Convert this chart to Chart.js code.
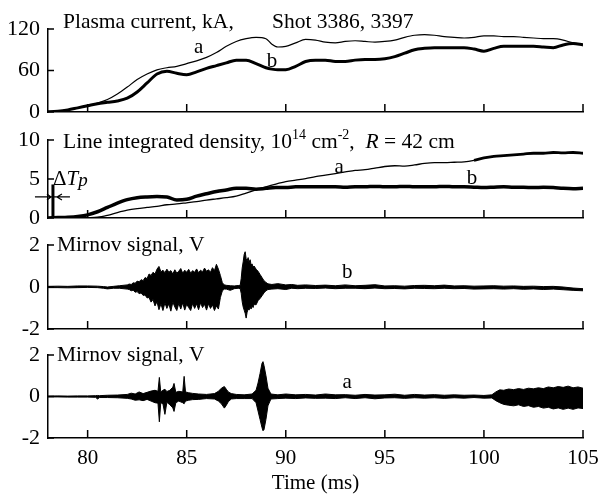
<!DOCTYPE html>
<html><head><meta charset="utf-8">
<script src="https://cdn.jsdelivr.net/npm/chart.js@4"></script>
<style>
html,body{margin:0;padding:0;background:#fff;}
#wrap{position:relative;width:599px;height:501px;background:#fff;}
canvas{position:absolute;left:0;top:0;}
</style></head><body>
<div id="wrap">
<canvas id="c1" width="599" height="501"></canvas>
<canvas id="c2" width="599" height="501"></canvas>
<canvas id="c3" width="599" height="501"></canvas>
<canvas id="c4" width="599" height="501"></canvas>
</div>
<script>
// ---------- tick labels ----------
const xTicks = [80, 85, 90, 95, 100, 105];
const yTicksCurrent = [0, 60, 120];
const yTicksDensity = [0, 5, 10];
const yTicksMirnov = [-2, 0, 2];

// ---------- Panel 1: plasma current (kA) ----------
const timeCurrent = [77.8,78.5,79,79.5,80,80.5,81,81.5,82,82.5,83,83.5,84,84.5,85,85.5,86,86.5,87,87.5,88,88.5,89,89.3,89.6,90,90.5,91,91.5,92,92.5,93,93.5,94,94.5,95,95.5,96,96.5,97,97.5,98,98.5,99,99.5,100,100.5,101,101.5,102,102.5,103,103.5,104,104.5,105];
const currentA = [0,1,3,6,9,13,18,26,36,47,55,61,64,66,70,74,79,86,95,102,106,108,106,98,94,95,100,105,104,101,100,102,103,102,101,102,104,108,111,112,111,109,108,107,108,110,110,109,109,108,107,106,106,104,100,98];
const currentB = [0,1,3,6,9,12,14,16,20,29,42,55,59,56,54,58,63,67,71,75,75,70,64,62,61,61,66,73,75,75,73,73,75,76,76,77,80,85,90,92,93,93,93,93,91,88,92,95,95,95,95,94,93,97,99,97];

// ---------- Panel 2: line integrated density (1e14 cm^-2) ----------
const timeDensity = [78,78.5,79,79.5,80,80.5,81,81.5,82,82.5,83,83.5,84,84.5,85,85.5,86,86.5,87,87.5,88,88.5,89,89.5,90,90.5,91,91.5,92,92.5,93,93.5,94,94.5,95,95.5,96,96.5,97,97.5,98,98.5,99,99.5,100,100.5,101,101.5,102,102.5,103,103.5,104,104.5,105];
const densityA = [0,0,0,0.02,0.05,0.1,0.35,0.7,1.0,1.2,1.35,1.5,1.7,1.8,1.95,2.1,2.3,2.45,2.6,2.8,3.2,3.6,4.0,4.35,4.65,4.85,5.05,5.3,5.5,5.7,5.9,6.1,6.2,6.4,6.6,6.7,6.65,6.8,7.0,7.1,7.1,7.15,7.2,7.4,7.7,7.9,8.0,8.1,8.2,8.3,8.3,8.4,8.35,8.4,8.3];
const densityB = [0,0.05,0.1,0.2,0.4,0.8,1.35,1.9,2.35,2.6,2.7,2.75,2.7,2.3,2.4,2.8,3.1,3.4,3.6,3.8,3.8,3.7,3.8,3.9,3.9,4.0,4.0,4.0,4.0,4.0,3.95,4.0,4.0,4.05,4.0,4.0,4.05,4.0,4.0,4.0,4.05,4.0,4.0,3.95,3.9,3.95,4.0,3.95,3.95,3.9,3.95,3.9,3.8,3.75,3.8];

// ---------- Panel 3: Mirnov signal b (V), upper / lower envelope ----------
const timeMirB = [78,78.5,79,79.5,80,80.5,80.8,81.0,81.3,81.6,
  82.0,82.1,82.2,82.3,82.4,82.5,82.6,82.7,82.8,82.9,
  83.0,83.1,83.2,83.3,83.4,83.5,83.6,83.7,83.8,83.9,
  84.0,84.1,84.2,84.3,84.4,84.5,84.6,84.7,84.8,84.9,
  85.0,85.1,85.2,85.3,85.4,85.5,85.6,85.7,85.8,85.9,
  86.0,86.1,86.2,86.3,86.4,86.5,86.6,86.7,86.8,86.9,
  87.0,87.2,87.4,87.6,87.7,87.75,87.8,87.85,87.9,87.95,
  88.0,88.05,88.1,88.15,88.2,88.25,88.3,88.35,88.4,88.5,
  88.6,88.7,88.8,88.9,89.0,89.1,89.3,89.6,90.0,90.3,
  90.6,91,91.5,92,92.5,93,93.5,94,94.5,95,
  95.5,96,96.5,97,97.5,98,98.5,99,99.5,100,
  100.5,101,101.5,102,102.5,103,103.5,104,104.5,105];
const upperMirB = [.03,.04,.03,.05,.05,.04,.02,.00,.03,.06,
  .10,.14,.12,.20,.18,.28,.25,.35,.30,.45,
  .40,.62,.55,.70,.62,.85,.98,.72,.80,.68,
  .85,.70,.78,.62,.82,.66,.75,.88,.65,.80,
  .70,.84,.66,.78,.70,.86,.68,.80,.72,.90,
  .75,.82,.70,.92,.78,1.08,.85,.55,.20,.10,
  .08,.06,.05,.07,.08,.40,.90,1.20,1.55,1.68,
  1.35,1.25,1.40,1.15,1.30,1.05,1.10,.95,1.00,.85,
  .75,.60,.45,.30,.22,.15,.12,.16,.10,.12,
  .08,.10,.07,.09,.06,.10,.06,.08,.11,.05,
  .06,.04,.07,.08,.06,.09,.05,.06,.04,.05,
  .06,.04,.05,.03,.04,.02,.03,.00,-.05,-.08];
const lowerMirB = [-.03,-.03,-.04,-.03,-.02,-.03,-.06,-.09,-.06,-.06,
  -.10,-.12,-.18,-.15,-.25,-.22,-.32,-.28,-.40,-.38,
  -.52,-.50,-.72,-.60,-.90,-.70,-1.08,-.80,-1.12,-.75,
  -1.02,-.80,-1.15,-.72,-.95,-1.12,-.78,-1.05,-.75,-1.10,
  -.82,-.98,-1.12,-.78,-1.02,-.80,-1.08,-.75,-.98,-.82,
  -1.10,-.80,-1.02,-.85,-1.12,-.90,-1.05,-.50,-.18,-.10,
  -.10,-.16,-.08,-.06,-.08,-.30,-.70,-.95,-1.10,-1.25,
  -1.48,-1.20,-1.05,-1.10,-.95,-1.05,-.90,-.98,-.82,-.85,
  -.65,-.55,-.42,-.28,-.18,-.12,-.10,-.08,-.12,-.06,
  -.08,-.06,-.07,-.05,-.08,-.06,-.06,-.08,-.05,-.08,
  -.07,-.09,-.06,-.07,-.08,-.06,-.08,-.07,-.10,-.09,
  -.08,-.10,-.08,-.11,-.09,-.12,-.10,-.13,-.16,-.18];

// ---------- Panel 4: Mirnov signal a (V), upper / lower envelope ----------
const timeMirA = [78,78.5,79,79.5,80,80.4,80.5,80.6,81,81.5,
  82,82.2,82.4,82.6,82.8,83.0,83.2,83.4,83.55,83.62,
  83.69,83.8,83.9,84.0,84.15,84.3,84.36,84.45,84.6,84.8,
  84.87,84.94,85.1,85.3,85.6,86.0,86.4,86.6,86.75,86.9,
  87.0,87.1,87.25,87.5,87.9,88.3,88.5,88.6,88.7,88.8,
  88.85,88.9,89.0,89.1,89.25,89.6,90.0,90.5,91,91.5,
  92,92.5,93,93.5,94,94.5,95,95.5,96,96.5,
  97,97.5,98,98.5,99,99.5,100,100.4,100.6,100.8,
  101.0,101.25,101.5,101.75,102,102.25,102.5,102.75,103,103.25,
  103.5,103.75,104,104.25,104.5,104.75,105];
const upperMirA = [.02,.03,.02,.03,.03,.04,.05,.04,.06,.07,
  .10,.16,.12,.22,.14,.20,.26,.30,.25,.92,
  .22,.30,.35,.24,.30,.45,.63,.20,.25,.22,
  .97,.22,.18,.15,.12,.10,.14,.25,.40,.48,
  .35,.22,.14,.10,.08,.12,.30,.65,1.10,1.60,
  1.68,1.50,1.00,.40,.12,.08,.12,.08,.10,.07,
  .12,.08,.09,.06,.10,.07,.08,.11,.06,.10,
  .07,.09,.06,.08,.06,.07,.05,.08,.22,.32,
  .30,.36,.33,.38,.34,.40,.37,.42,.38,.46,
  .42,.48,.44,.50,.42,.46,.40];
const lowerMirA = [-.02,-.02,-.03,-.03,-.03,-.04,-.12,-.05,-.05,-.06,
  -.09,-.12,-.18,-.16,-.20,-.14,-.22,-.30,-.32,-1.22,
  -.30,-.35,-.86,-.28,-.40,-.55,-.72,-.30,-.22,-.30,
  -.35,-.22,-.18,-.15,-.14,-.10,-.12,-.22,-.35,-.56,
  -.42,-.25,-.12,-.10,-.10,-.10,-.30,-.70,-1.10,-1.50,
  -1.65,-1.60,-1.10,-.45,-.12,-.10,-.08,-.10,-.07,-.09,
  -.08,-.10,-.06,-.10,-.06,-.11,-.07,-.06,-.09,-.06,
  -.08,-.06,-.09,-.06,-.08,-.05,-.08,-.07,-.20,-.30,
  -.38,-.42,-.45,-.40,-.48,-.44,-.52,-.48,-.56,-.52,
  -.60,-.55,-.62,-.56,-.62,-.55,-.58];

// ---------- annotation anchor (data coordinates) ----------
const deltaTpTime = 78.25;

// ---------- drawing ----------
const FONT = "'Liberation Serif','Times New Roman',serif";
const TITLE = '21.5px ' + FONT;
const pts = (xs, ys) => xs.map((x, i) => ({ x: x, y: ys[i] }));

function decor(cfg) {
  return {
    id: 'decor',
    afterDraw(chart) {
      const { ctx, chartArea: a, scales: { x, y } } = chart;
      ctx.save();
      ctx.strokeStyle = '#000';
      ctx.lineWidth = 1.5;
      ctx.beginPath();
      xTicks.forEach(v => {
        const px = x.getPixelForValue(v);
        ctx.moveTo(px, a.bottom); ctx.lineTo(px, a.bottom - 8);
      });
      cfg.yTicks.forEach(v => {
        const py = y.getPixelForValue(v);
        ctx.moveTo(a.left, py); ctx.lineTo(a.left + 6, py);
      });
      ctx.stroke();
      ctx.fillStyle = '#000';
      ctx.textBaseline = 'alphabetic';
      ctx.textAlign = 'left';
      if (cfg.text) cfg.text(ctx, x, y, a);
      ctx.restore();
    }
  };
}

function label(ctx, x, y, t, v, s) {
  ctx.save();
  ctx.font = '21px ' + FONT;
  ctx.textAlign = 'center';
  ctx.textBaseline = 'middle';
  ctx.fillText(s, x.getPixelForValue(t), y.getPixelForValue(v));
  ctx.restore();
}

function panel(id, cfg) {
  return new Chart(document.getElementById(id), {
    type: 'line',
    data: { datasets: cfg.datasets },
    options: {
      responsive: false,
      animation: false,
      devicePixelRatio: 1,
      events: [],
      layout: { padding: { top: cfg.top, bottom: 501 - cfg.bottom - cfg.xh, left: 0, right: 16 } },
      plugins: { legend: { display: false }, tooltip: { enabled: false } },
      elements: { point: { radius: 0 } },
      scales: {
        x: {
          type: 'linear', min: 78, max: 105,
          afterBuildTicks: s => { s.ticks = xTicks.map(v => ({ value: v })); },
          afterFit: s => { s.height = cfg.xh; s.paddingLeft = 0; s.paddingRight = 0; },
          grid: { display: true, drawOnChartArea: false, drawTicks: false },
          border: { display: true, color: '#000', width: 1.5 },
          ticks: { display: !!cfg.showX, color: '#000', font: { family: FONT, size: 21 }, padding: 8, maxRotation: 0, autoSkip: false },
          title: { display: !!cfg.showX, text: 'Time (ms)', color: '#000', font: { family: FONT, size: 21 }, padding: { top: 0, bottom: 0 } }
        },
        y: {
          type: 'linear', min: cfg.ymin, max: cfg.ymax,
          afterBuildTicks: s => { s.ticks = cfg.yTicks.map(v => ({ value: v })); },
          afterFit: s => { s.width = 48; },
          grid: { display: true, drawOnChartArea: false, drawTicks: false },
          border: { display: true, color: '#000', width: 1.5 },
          ticks: { color: '#000', font: { family: FONT, size: 22 }, padding: 8, callback: v => String(v) }
        }
      }
    },
    plugins: [decor(cfg)]
  });
}

const lineDs = (data, w) => ({ data, borderColor: '#000', borderWidth: w, fill: false, cubicInterpolationMode: 'monotone' });
const bandDs = (up, lo, times) => [
  { data: pts(times, up), borderColor: '#000', borderWidth: 1, fill: false, tension: 0 },
  { data: pts(times, lo), borderColor: '#000', borderWidth: 1, fill: '-1', backgroundColor: '#000', tension: 0 }
];

// Panel 1
panel('c1', {
  top: 29, bottom: 112, xh: 1, ymin: 0, ymax: 120, yTicks: yTicksCurrent,
  datasets: [lineDs(pts(timeCurrent, currentA), 1.2), lineDs(pts(timeCurrent, currentB), 3)],
  text(ctx, x, y) {
    ctx.font = TITLE;
    ctx.fillText('Plasma current, kA,', 63, 28);
    ctx.fillText('Shot 3386, 3397', 272, 28);
    label(ctx, x, y, 85.6, 93, 'a');
    label(ctx, x, y, 89.3, 73, 'b');
  }
});

// Panel 2
panel('c2', {
  top: 140, bottom: 218, xh: 1, ymin: 0, ymax: 10, yTicks: yTicksDensity,
  datasets: [
    Object.assign(lineDs(pts(timeDensity, densityA), 1.3), {
      segment: { borderWidth: c => (c.p0.parsed.x >= 99.5 ? 2.8 : 1.3) }
    }),
    lineDs(pts(timeDensity, densityB), 3.5)
  ],
  text(ctx, x, y, a) {
    let cx = 63; const by = 148;
    const put = (s, f, dy) => { ctx.font = f; ctx.fillText(s, cx, by + (dy || 0)); cx += ctx.measureText(s).width; };
    put('Line integrated density, 10', TITLE);
    put('14', '14px ' + FONT, -9);
    put(' cm', TITLE);
    put('-2', '14px ' + FONT, -9);
    put(',  ', TITLE);
    put('R', 'italic ' + TITLE);
    put(' = 42 cm', TITLE);
    label(ctx, x, y, 92.7, 6.5, 'a');
    label(ctx, x, y, 99.4, 5.1, 'b');
    // ΔTp marker
    const px = x.getPixelForValue(deltaTpTime);
    const yTop = y.getPixelForValue(4.3), yArr = y.getPixelForValue(2.7);
    ctx.lineWidth = 3;
    ctx.beginPath(); ctx.moveTo(px, yTop); ctx.lineTo(px, a.bottom); ctx.stroke();
    ctx.lineWidth = 1.2;
    ctx.beginPath();
    ctx.moveTo(px - 18, yArr); ctx.lineTo(px + 17, yArr);
    ctx.moveTo(px - 6, yArr - 3); ctx.lineTo(px - 2, yArr); ctx.lineTo(px - 6, yArr + 3);
    ctx.moveTo(px + 9, yArr - 3); ctx.lineTo(px + 4, yArr); ctx.lineTo(px + 9, yArr + 3);
    ctx.stroke();
    ctx.font = '21px ' + FONT;
    ctx.fillText('\u0394', px, 185);
    let tx = px + ctx.measureText('\u0394').width;
    ctx.font = 'italic 21px ' + FONT;
    ctx.fillText('T', tx, 185);
    tx += ctx.measureText('T').width;
    ctx.font = 'italic 19px ' + FONT;
    ctx.fillText('p', tx, 186);
  }
});

// Panel 3
panel('c3', {
  top: 245, bottom: 329, xh: 1, ymin: -2, ymax: 2, yTicks: yTicksMirnov,
  datasets: bandDs(upperMirB, lowerMirB, timeMirB),
  text(ctx, x, y) {
    ctx.font = TITLE;
    ctx.fillText('Mirnov signal, V', 57, 251);
    label(ctx, x, y, 93.1, 0.7, 'b');
  }
});

// Panel 4
panel('c4', {
  top: 355, bottom: 438, xh: 58, showX: true, ymin: -2, ymax: 2, yTicks: yTicksMirnov,
  datasets: bandDs(upperMirA, lowerMirA, timeMirA),
  text(ctx, x, y) {
    ctx.font = TITLE;
    ctx.fillText('Mirnov signal, V', 57, 361);
    label(ctx, x, y, 93.1, 0.67, 'a');
  }
});
</script>
</body></html>
